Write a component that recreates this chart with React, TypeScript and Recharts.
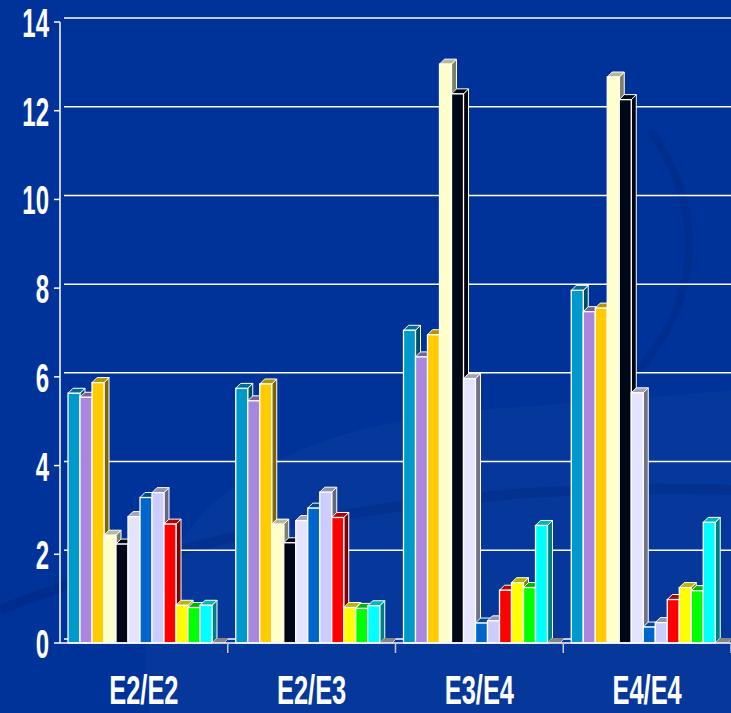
import { BarChart, Bar, XAxis, YAxis, CartesianGrid } from "recharts";

const categories = ["E2/E2", "E2/E3", "E3/E4", "E4/E4"];
const yTicks = [0, 2, 4, 6, 8, 10, 12, 14];

// one array per colour, one value per genotype
const teal = [5.63, 5.74, 7.05, 7.95];
const lilac = [5.54, 5.46, 6.45, 7.47];
const gold = [5.87, 5.84, 6.95, 7.55];
const cream = [2.43, 2.68, 13.05, 12.76];
const black = [2.23, 2.26, 12.38, 12.25];
const lavender = [2.85, 2.76, 5.96, 5.64];
const blue = [3.28, 3.04, 0.45, 0.36];
const periwinkle = [3.39, 3.4, 0.5, 0.46];
const red = [2.68, 2.83, 1.19, 0.98];
const yellow = [0.85, 0.8, 1.36, 1.25];
const green = [0.8, 0.78, 1.25, 1.18];
const cyan = [0.85, 0.84, 2.65, 2.72];
const empty = [0, 0, 0, 0];

const series = [
  { key: "s1", values: teal, color: "#0099cc" },
  { key: "s2", values: lilac, color: "#a987dc" },
  { key: "s3", values: gold, color: "#ffcc00" },
  { key: "s4", values: cream, color: "#ffffcc" },
  { key: "s5", values: black, color: "#000818" },
  { key: "s6", values: lavender, color: "#e4e4ff" },
  { key: "s7", values: blue, color: "#0066cc" },
  { key: "s8", values: periwinkle, color: "#ccccff" },
  { key: "s9", values: red, color: "#ff0000" },
  { key: "s10", values: yellow, color: "#ffff00" },
  { key: "s11", values: green, color: "#00ff00" },
  { key: "s12", values: cyan, color: "#00ffff" },
  { key: "s13", values: empty, color: "#b8b8b8" },
];

const data = categories.map((name, i) => {
  const row: Record<string, any> = { name };
  series.forEach((s) => (row[s.key] = s.values[i]));
  return row;
});

const W = 731;
const H = 713;
const Y_AXIS_W = 60;
const TOP = 22;
const X_AXIS_H = 70;
const AXIS_Y = H - X_AXIS_H;
const BAND = (W - Y_AXIS_W) / categories.length;
const DEPTH = 5;
const SHIFT = 5; // front faces sit a little right of the band start (3D floor)
const FONT = "'Liberation Sans', Arial, sans-serif";

function shade(hex: string, f: number) {
  const n = parseInt(hex.slice(1), 16);
  const r = Math.round(((n >> 16) & 255) * f);
  const g = Math.round(((n >> 8) & 255) * f);
  const b = Math.round((n & 255) * f);
  return `rgb(${r},${g},${b})`;
}

function Bar3D(props: any) {
  const { y, width, height, fill } = props;
  if (props.x == null || y == null) return null;
  const x = props.x + SHIFT;
  const d = DEPTH;
  const x2 = x + width;
  const y2 = y + height;
  return (
    <g>
      <polygon
        points={`${x2},${y} ${x2 + d},${y - d} ${x2 + d},${y2 - d} ${x2},${y2}`}
        fill={shade(fill, 0.5)}
        stroke="#fff"
        strokeWidth={1}
      />
      <polygon
        points={`${x},${y} ${x + d},${y - d} ${x2 + d},${y - d} ${x2},${y}`}
        fill={shade(fill, 0.72)}
        stroke={height > 0 ? "#fff" : "none"}
        strokeWidth={1}
      />
      {height > 0 && (
        <rect x={x} y={y} width={width} height={height} fill={fill} stroke="#fff" strokeWidth={1.3} />
      )}
    </g>
  );
}

function YTick({ x, y, payload }: any) {
  return (
    <g transform={`translate(${x},${y}) scale(0.6,1)`}>
      <text textAnchor="end" dy={15} fill="#fff" fontSize={40} fontWeight="bold" fontFamily={FONT}>
        {payload.value}
      </text>
    </g>
  );
}

function XTick({ x, payload }: any) {
  return (
    <g>
      <line x1={x + BAND / 2} y1={AXIS_Y} x2={x + BAND / 2} y2={AXIS_Y + 10} stroke="#c8c8d8" strokeWidth={1.5} />
      <g transform={`translate(${x},${AXIS_Y + 61}) scale(0.62,1)`}>
        <text textAnchor="middle" fill="#fff" fontSize={41} fontWeight="bold" fontFamily={FONT}>
          {payload.value}
        </text>
      </g>
    </g>
  );
}

function GridLine(p: any) {
  return (
    <line
      key={`g-${p.y1}`}
      x1={p.x1 + 4}
      y1={p.y1 - 4}
      x2={p.x2}
      y2={p.y2 - 4}
      stroke="#ffffff"
      strokeWidth={1.5}
    />
  );
}

export default function App() {
  return (
    <div
      style={{
        position: "absolute",
        left: 0,
        top: 0,
        width: W,
        height: H,
        background: "#003399",
        overflow: "hidden",
      }}
    >
      {/* faint swirl in the slide background */}
      <svg width={W} height={H} style={{ position: "absolute", left: 0, top: 0 }}>
        <path d="M 150 713 C 120 520 260 430 480 410 C 600 400 690 395 731 390 L 731 713 Z" fill="rgba(255,255,255,0.025)" />
        <path d="M 0 610 C 200 530 450 480 731 490" fill="none" stroke="rgba(0,20,90,0.18)" strokeWidth={10} />
        <path d="M 650 130 C 705 210 705 300 630 380" fill="none" stroke="rgba(0,20,90,0.15)" strokeWidth={8} />
      </svg>
      <div style={{ position: "absolute", left: 0, top: 0 }}>
        <BarChart
          width={W}
          height={H}
          data={data}
          margin={{ top: TOP, right: 0, left: 0, bottom: 0 }}
          barCategoryGap={3}
          barGap={0}
        >
          <CartesianGrid horizontal={GridLine} vertical={false} />
          <XAxis
            dataKey="name"
            height={X_AXIS_H}
            axisLine={{ stroke: "#ffffff", strokeWidth: 1.5 }}
            tickLine={false}
            tick={<XTick />}
            interval={0}
          />
          <YAxis
            width={Y_AXIS_W}
            domain={[0, 14]}
            ticks={yTicks}
            axisLine={{ stroke: "#ffffff", strokeWidth: 1.5 }}
            tickLine={{ stroke: "#ffffff", strokeWidth: 1.5 }}
            tickSize={6}
            tickMargin={5}
            tick={<YTick />}
          />
          {series.map((s) => (
            <Bar key={s.key} dataKey={s.key} fill={s.color} shape={<Bar3D />} isAnimationActive={false} />
          ))}
        </BarChart>
      </div>
    </div>
  );
}
